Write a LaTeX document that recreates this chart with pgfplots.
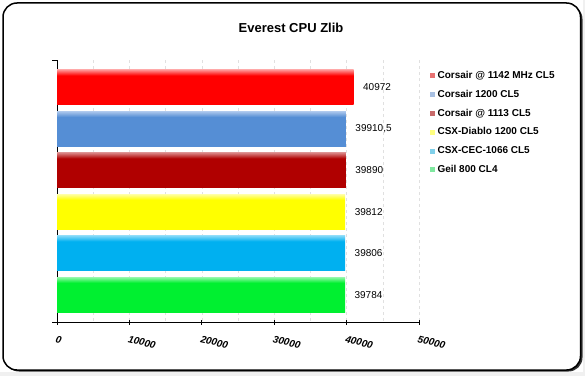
\documentclass[border=0pt]{standalone}
\usepackage{pgfplots}
\pgfplotsset{compat=1.18}
\usepackage{fontspec}
\setmainfont{Liberation Sans}

\definecolor{cred}{HTML}{FF0000}\definecolor{credl}{HTML}{FF9090}
\definecolor{cblue}{HTML}{558ED5}\definecolor{cbluel}{HTML}{AAC6EC}
\definecolor{cdred}{HTML}{B00000}\definecolor{cdredl}{HTML}{D88080}
\definecolor{cyel}{HTML}{FFFF00}\definecolor{cyell}{HTML}{FFFFA0}
\definecolor{ccyan}{HTML}{00B0F0}\definecolor{ccyanl}{HTML}{80D8F8}
\definecolor{cgreen}{HTML}{00F030}\definecolor{cgreenl}{HTML}{90F8A8}
% legend marker colours
\definecolor{lred}{HTML}{E87272}\definecolor{lblue}{HTML}{A8C0E2}
\definecolor{ldred}{HTML}{C86A6A}\definecolor{lyel}{HTML}{FFFF80}
\definecolor{lcyan}{HTML}{80D0EA}\definecolor{lgreen}{HTML}{80E8A0}

\pgfdeclareverticalshading{shred}{100bp}{color(0bp)=(cred); color(25bp)=(cred); color(67bp)=(cred); color(75bp)=(credl); color(100bp)=(credl)}
\pgfdeclareverticalshading{shblue}{100bp}{color(0bp)=(cblue); color(25bp)=(cblue); color(67bp)=(cblue); color(75bp)=(cbluel); color(100bp)=(cbluel)}
\pgfdeclareverticalshading{shdred}{100bp}{color(0bp)=(cdred); color(25bp)=(cdred); color(67bp)=(cdred); color(75bp)=(cdredl); color(100bp)=(cdredl)}
\pgfdeclareverticalshading{shyel}{100bp}{color(0bp)=(cyel); color(25bp)=(cyel); color(67bp)=(cyel); color(75bp)=(cyell); color(100bp)=(cyell)}
\pgfdeclareverticalshading{shcyan}{100bp}{color(0bp)=(ccyan); color(25bp)=(ccyan); color(67bp)=(ccyan); color(75bp)=(ccyanl); color(100bp)=(ccyanl)}
\pgfdeclareverticalshading{shgreen}{100bp}{color(0bp)=(cgreen); color(25bp)=(cgreen); color(67bp)=(cgreen); color(75bp)=(cgreenl); color(100bp)=(cgreenl)}

\newcommand{\legsq}[1]{\pgfsetfillcolor{#1}\pgfpathrectangle{\pgfpoint{0pt}{-2.5pt}}{\pgfpoint{5pt}{5pt}}\pgfusepath{fill}}

\begin{document}
\begin{tikzpicture}[x=1pt,y=1pt]
% canvas and frame
\fill[white] (0,0) rectangle (585,376);
\fill[gray!12] (0,0) rectangle (585,4);
\fill[gray!12] (583,0) rectangle (585,376);
\fill[black!80,rounded corners=14pt] (5,4.5) rectangle (582.5,371);
\filldraw[fill=white,draw=black,line width=1.5pt,rounded corners=14pt] (3,6) rectangle (580.5,373);
\node[font=\bfseries\fontsize{13}{15}\selectfont] at (291,348) {Everest CPU Zlib};

\begin{axis}[
  at={(57pt,54pt)}, anchor=south west,
  width=362pt, height=262pt, scale only axis,
  xmin=0, xmax=50000, ymin=-0.66, ymax=5.66, y dir=reverse,
  axis x line*=bottom, axis y line*=left,
  axis line style={black, line width=0.8pt},
  xtick={0,10000,...,50000}, minor xtick={5000,15000,...,45000},
  xmajorgrids, xminorgrids,
  major grid style={black!12, dashed},
  minor grid style={black!12, dashed},
  ytick={-0.66,5.66}, yticklabels={},
  xtick align=center, ytick align=outside,
  major tick length=5pt, minor tick length=0pt,
  xtick style={black, line width=0.8pt},
  ytick style={black, line width=0.8pt},
  scaled x ticks=false,
  /pgf/number format/assume math mode=true,
  /pgf/number format/1000 sep={},
  xticklabel style={font=\bfseries\itshape\fontsize{10}{12}\selectfont, rotate=-14, anchor=north west, xshift=-1pt, yshift=-7pt},
  bar width=0.84,
  point meta=x,
  nodes near coords={\pgfmathprintnumber[use comma,1000 sep={},precision=1]{\pgfplotspointmeta}},
  every node near coord/.append style={anchor=west, text=black, xshift=6pt, font=\fontsize{10}{12}\selectfont},
  legend style={at={(1.03,0.958)}, anchor=north west, draw=none, fill=none,
    font=\bfseries\fontsize{10}{12}\selectfont, inner sep=0pt, row sep=9.6pt, column sep=2.5pt,
    nodes={inner sep=0pt, text height=7.2pt, text depth=2pt}},
  legend cell align=left,
]
\addplot[xbar, bar shift=0pt, draw=none, shade, shading=shred,
  legend image code/.code={\legsq{lred}}]
  coordinates {(40972,0)};
\addlegendentry{Corsair @ 1142 MHz CL5}
\addplot[xbar, bar shift=0pt, draw=none, shade, shading=shblue,
  legend image code/.code={\legsq{lblue}}]
  coordinates {(39910.5,1)};
\addlegendentry{Corsair 1200 CL5}
\addplot[xbar, bar shift=0pt, draw=none, shade, shading=shdred,
  legend image code/.code={\legsq{ldred}}]
  coordinates {(39890,2)};
\addlegendentry{Corsair @ 1113 CL5}
\addplot[xbar, bar shift=0pt, draw=none, shade, shading=shyel,
  legend image code/.code={\legsq{lyel}}]
  coordinates {(39812,3)};
\addlegendentry{CSX-Diablo 1200 CL5}
\addplot[xbar, bar shift=0pt, draw=none, shade, shading=shcyan,
  legend image code/.code={\legsq{lcyan}}]
  coordinates {(39806,4)};
\addlegendentry{CSX-CEC-1066 CL5}
\addplot[xbar, bar shift=0pt, draw=none, shade, shading=shgreen,
  legend image code/.code={\legsq{lgreen}}]
  coordinates {(39784,5)};
\addlegendentry{Geil 800 CL4}
\end{axis}
\end{tikzpicture}
\end{document}
